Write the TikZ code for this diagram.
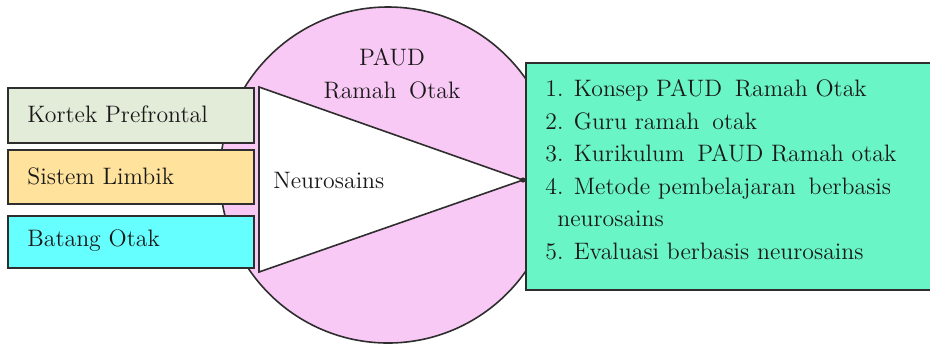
\documentclass[tikz,border=0pt]{standalone}
\definecolor{kortekc}{HTML}{E3EBD9}
\definecolor{sistemc}{HTML}{FFE29C}
\definecolor{batangc}{HTML}{66FFFF}
\definecolor{greenc}{HTML}{6AF5C6}
\definecolor{pinkc}{HTML}{F9C9F5}
\definecolor{edgec}{HTML}{2E2E2E}
\newcommand{\xsp}{\hspace{2.5pt}}
\tikzset{
  box/.style={draw=edgec, line width=1pt, rectangle, anchor=north west, inner sep=0pt},
  lbl/.style={font=\rmfamily\fontsize{11.9}{14}\selectfont, text=black!90, inner sep=0pt},
}
\begin{document}
\begin{tikzpicture}[x=0.5pt,y=-0.5pt]
\useasboundingbox (0,0) rectangle (930,345);
\clip (0,0) rectangle (930,345);
% circle
\node[draw=edgec, line width=0.8pt, fill=pinkc, circle, minimum size=168pt, inner sep=0pt] (circ) at (388,175) {};
% left boxes
\node[box, fill=kortekc, minimum width=123pt, minimum height=27.5pt] (kortek) at (7,87) {};
\node[box, fill=sistemc, minimum width=123pt, minimum height=27pt] (sistem) at (7,149) {};
\node[box, fill=batangc, minimum width=123pt, minimum height=26pt] (batang) at (7,215) {};
\node[lbl, anchor=west] (tk) at (27,114) {Kortek Prefrontal};
\node[lbl, anchor=west] (ts) at (27,176) {Sistem Limbik};
\node[lbl, anchor=west] (tb) at (27,241) {Batang Otak};
% green box
\node[box, fill=greenc, minimum width=210pt, minimum height=113.5pt] (green) at (525,62) {};
% triangle
\coordinate (t1) at (259,87);
\coordinate (t2) at (259,272);
\coordinate (t3) at (523,180);
\draw[draw=edgec, line width=0.8pt, fill=white, line join=miter] (t1) -- (t3) -- (t2) -- cycle;
\fill[edgec] (t3) circle (1.3pt);
\node[lbl, anchor=west] (neuro) at (273,180) {Neurosains};
% title
\node[lbl, align=center, font=\rmfamily\fontsize{11.9}{16.5}\selectfont] (paud) at (392,74) {PAUD\\Ramah\xsp\ Otak};
% list
\node[lbl, anchor=north west, align=left, font=\rmfamily\fontsize{11.9}{16.3}\selectfont] (list) at (545,79)
{1. Konsep PAUD\xsp\ Ramah Otak\\
2. Guru ramah\xsp\ otak\\
3. Kurikulum\xsp\ PAUD Ramah otak\\
4. Metode pembelajaran\xsp\ berbasis\\
\hspace*{6pt}neurosains\\
5. Evaluasi berbasis neurosains};
\end{tikzpicture}
\end{document}
